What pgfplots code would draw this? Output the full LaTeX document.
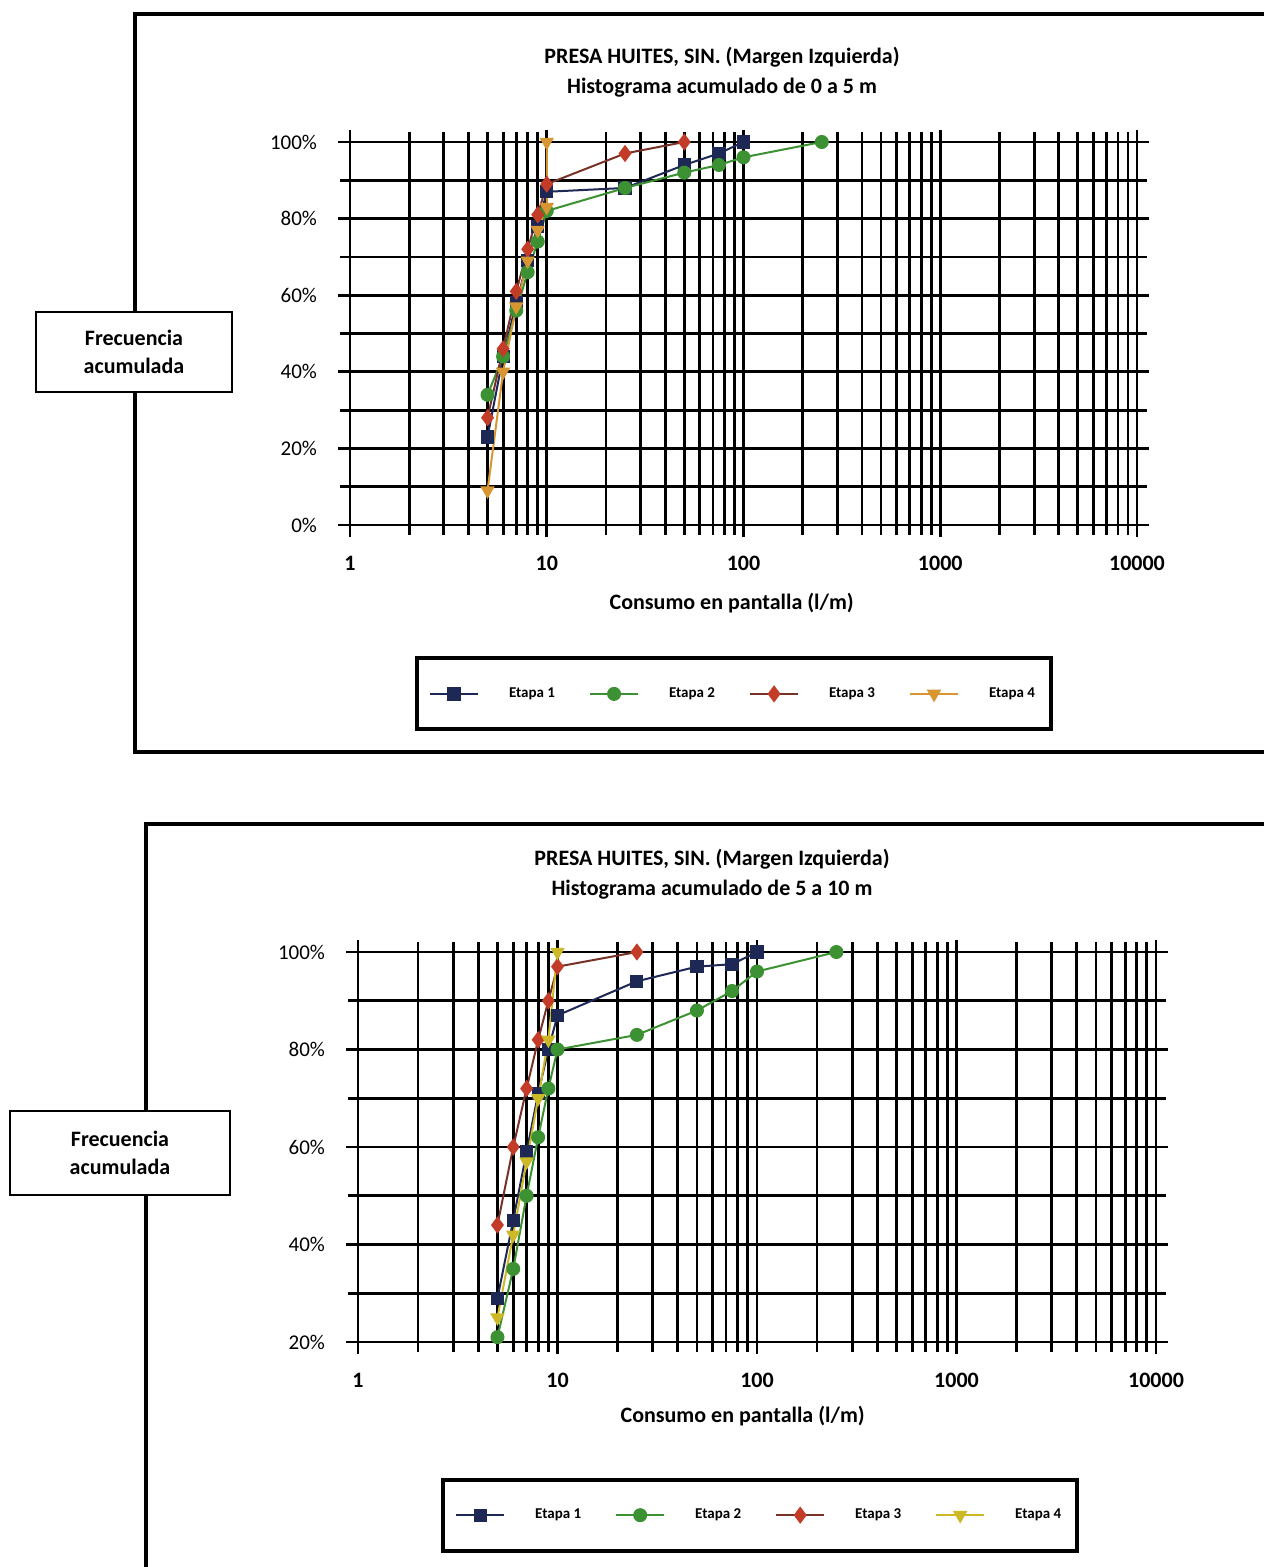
\documentclass[border=0pt]{standalone}
\usepackage{pgfplots}
\pgfplotsset{compat=1.18}
\usepackage{fontspec}
\setmainfont{Carlito}
\definecolor{eA}{RGB}{30,40,85}
\definecolor{eB}{RGB}{60,145,50}
\definecolor{eC}{RGB}{195,60,40}
\definecolor{eCl}{RGB}{120,50,40}
\definecolor{eD}{RGB}{215,150,50}
\definecolor{eDy}{RGB}{205,185,40}
\pgfplotsset{
 panel/.style={
  scale only axis, xmin=1, xmax=10000,
  xtick={1,10,100,1000,10000}, xticklabels={1,10,100,1000,10000},
  minor xtick={2,3,4,5,6,7,8,9,20,30,40,50,60,70,80,90,200,300,400,500,600,700,800,900,2000,3000,4000,5000,6000,7000,8000,9000},
  grid=both,
  major grid style={black,line width=1.4pt},
  minor grid style={black,line width=1.4pt},
  axis line style={black,line width=1.4pt},
  tick style={black,line width=1.4pt},
  tick align=outside, major tick length=6pt, minor tick length=5pt,
  xticklabel style={font=\bfseries\fontsize{11}{13}\selectfont},
  yticklabel style={font=\fontsize{10.5}{12}\selectfont},
  xticklabel shift=6pt, yticklabel shift=7pt,
  xlabel={Consumo en pantalla (l/m)},
  xlabel style={font=\bfseries\fontsize{11}{13}\selectfont, anchor=center},
  legend columns=4,
  legend style={draw=black,line width=2pt, anchor=center,
    font=\bfseries\fontsize{7.5}{9}\selectfont, inner xsep=6pt, inner ysep=12.5pt,
    cells={anchor=west},
    /tikz/every odd column/.append style={column sep=13pt},
    /tikz/every even column/.append style={column sep=15pt}},
  legend image code/.code={\draw[##1, mark repeat=2, mark phase=2] plot coordinates {(0pt,0pt) (12pt,0pt) (24pt,0pt)};},
 },
 s1/.style={color=eA, line width=1pt, mark=square*, mark size=2.8pt, mark options={fill=eA, draw=eA}},
 s2/.style={color=eB, line width=1pt, mark=*, mark size=3pt, mark options={fill=eB, draw=eB}},
 s3/.style={color=eCl, line width=1pt, mark=diamond*, mark size=3.5pt, mark options={fill=eC, draw=eC}},
}
\begin{document}
\begin{tikzpicture}
\begin{scope}[x=0.5pt,y=-0.5pt]
\useasboundingbox (0,0) rectangle (1264,1567);
\fill[white] (0,0) rectangle (1264,1567);
\draw[line width=2pt] (1264,14) -- (135,14) -- (135,752) -- (1264,752);
\draw[line width=2pt] (1264,824) -- (146,824) -- (146,1567);
\node[font=\bfseries\fontsize{11}{15}\selectfont, align=center] at (722,72) {PRESA HUITES, SIN. (Margen Izquierda)\\Histograma acumulado de 0 a 5 m};
\node[font=\bfseries\fontsize{11}{15}\selectfont, align=center] at (712,874) {PRESA HUITES, SIN. (Margen Izquierda)\\Histograma acumulado de 5 a 10 m};
\end{scope}

\begin{semilogxaxis}[panel, at={(175pt,-262.5pt)}, anchor=south west, width=393.5pt, height=191.5pt,
  ymin=0, ymax=100, ytick={0,20,40,60,80,100}, minor ytick={10,30,50,70,90},
  yticklabels={0\%,20\%,40\%,60\%,80\%,100\%},
  legend style={at={(axis description cs:0.488,-0.441)}},
  xlabel style={at={(axis description cs:0.485,-0.204)}}]
\addplot[s1] coordinates {(5,23) (6,44) (7,58) (8,69) (9,78) (10,87) (25,88) (50,94) (75,97) (100,100)};
\addlegendentry{Etapa 1}
\addplot[s2] coordinates {(5,34) (6,44) (7,56) (8,66) (9,74) (10,82) (25,88) (50,92) (75,94) (100,96) (250,100)};
\addlegendentry{Etapa 2}
\addplot[s3] coordinates {(5,28) (6,46) (7,61) (8,72) (9,81) (10,89) (25,97) (50,100)};
\addlegendentry{Etapa 3}
\addplot[color=eD, line width=1pt, mark=triangle*, mark size=3.2pt, mark options={fill=eD, draw=eD, rotate=180}] coordinates {(5,9) (6,40) (7,57) (8,69) (9,77) (10,83) (10,100)};
\addlegendentry{Etapa 4}
\end{semilogxaxis}

\begin{semilogxaxis}[panel, at={(179pt,-671pt)}, anchor=south west, width=399pt, height=195pt,
  ymin=20, ymax=100, ytick={20,40,60,80,100}, minor ytick={30,50,70,90},
  yticklabels={20\%,40\%,60\%,80\%,100\%},
  legend style={at={(axis description cs:0.504,-0.444)}},
  xlabel style={at={(axis description cs:0.482,-0.19)}}]
\addplot[s1] coordinates {(5,29) (6,45) (7,59) (8,71) (9,80) (10,87) (25,94) (50,97) (75,97.5) (100,100)};
\addlegendentry{Etapa 1}
\addplot[s2] coordinates {(5,21) (6,35) (7,50) (8,62) (9,72) (10,80) (25,83) (50,88) (75,92) (100,96) (250,100)};
\addlegendentry{Etapa 2}
\addplot[s3] coordinates {(5,44) (6,60) (7,72) (8,82) (9,90) (10,97) (25,100)};
\addlegendentry{Etapa 3}
\addplot[color=eDy, line width=1pt, mark=triangle*, mark size=3.2pt, mark options={fill=eDy, draw=eDy, rotate=180}] coordinates {(5,25) (6,42) (7,57) (8,70) (9,82) (10,100)};
\addlegendentry{Etapa 4}
\end{semilogxaxis}

\begin{scope}[x=0.5pt,y=-0.5pt]
\node[draw=black, line width=0.6pt, fill=white, minimum width=98pt, minimum height=40pt, font=\bfseries\fontsize{11}{14}\selectfont, align=center] at (134,352) {Frecuencia\\acumulada};
\node[draw=black, line width=0.6pt, fill=white, minimum width=110pt, minimum height=42pt, font=\bfseries\fontsize{11}{14}\selectfont, align=center] at (120,1153) {Frecuencia\\acumulada};
\end{scope}
\end{tikzpicture}
\end{document}
